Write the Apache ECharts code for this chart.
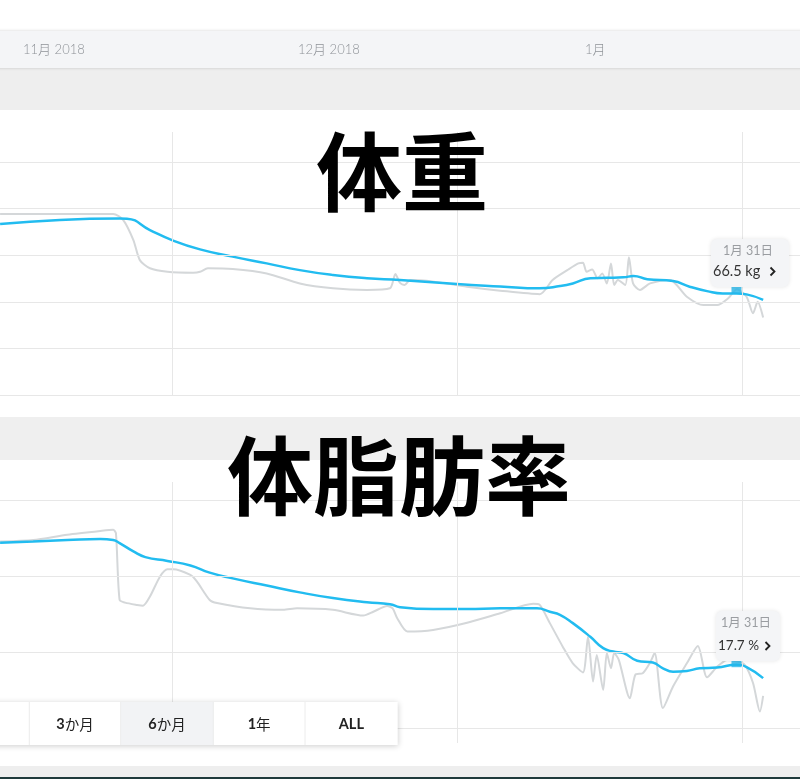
<!DOCTYPE html>
<html><head><meta charset="utf-8">
<script src="https://cdn.jsdelivr.net/npm/echarts@6/dist/echarts.min.js"></script>
<style>html,body{margin:0;padding:0;background:#fff;}#c{width:800px;height:779px;}</style>
</head><body><div id="c"></div><script>
// x values: days counted from 2018-12-01 (0 = 12/1, 31 = 1/1, 62 = 2/1)
const monthStartDays = [0, 31, 62];
const topMonthLabels = ['11月 2018', '12月 2018', '1月'];
const rangeButtons = ['3か月', '6か月', '1年', 'ALL'];

// 体重 (kg)
const weightTicks = [62, 64, 66, 68, 70, 72];
const rawWeightDay = [-18.7,-6.4,-5.3,-4.2,-3.5,-2.4,-0.5,2.3,3.05,3.9,6.6,10.3,13.9,17.5,21.2,23.7,24.3,24.8,25.3,25.9,27.7,32.1,35.7,40.0,41.4,43.0,44.2,44.7,45.1,45.7,46.3,46.8,47.3,47.75,48.1,48.5,49.3,49.7,50.15,50.9,52.0,54.2,54.9,56.0,57.8,59.3,60.5,61.45,62.5,63.2,63.7,64.3];
const rawWeightKg = [69.77,69.77,69.51,68.65,67.79,67.44,67.29,67.25,67.29,67.44,67.41,67.22,66.79,66.58,66.51,66.58,67.19,66.81,66.72,66.94,66.91,66.65,66.48,66.33,66.94,67.36,67.65,67.68,67.29,67.39,67.01,67.22,66.79,67.65,66.72,66.94,66.72,67.91,66.79,66.51,66.79,66.94,66.72,66.22,65.86,65.86,66.15,66.54,66.22,65.51,66.0,65.33];
const trendWeightDay = [-18.7,-5.7,-4.9,-2.4,0,3.05,6.6,10.3,13.9,17.5,21.2,24.8,31,35.7,40,42.2,43.6,45.5,47.3,49.1,50.2,51.7,54.5,56.3,58.2,59.9,61.4,62.5,64.3];
const trendWeightKg = [69.34,69.58,69.57,69.08,68.65,68.25,67.94,67.65,67.36,67.15,67.01,66.94,66.76,66.66,66.58,66.68,66.79,67.01,67.03,67.05,67.11,66.97,66.89,66.65,66.46,66.36,66.36,66.32,66.08];

// 体脂肪率 (%)
const fatTicks = [16, 18, 20, 22];
const rawFatDay = [-18.7,-15.1,-11.4,-7.8,-6.4,-6.1,-5.7,-5.1,-3.8,-3.15,-2.4,-1.3,-0.5,0.1,2.0,2.7,4.1,4.9,8.5,12.1,13.6,17.5,20.8,21.9,23.4,24.0,24.5,25.6,28.4,32.1,35.7,39.3,40.0,41.1,42.5,43.6,44.7,45.25,45.8,46.2,46.9,47.3,47.75,48.1,48.6,49.8,50.4,51.2,52.0,52.5,53.4,54.5,56.0,57.2,58.2,59.3,60.4,61.45,62.3,63.2,63.95,64.3];
const rawFatPct = [20.92,20.96,21.10,21.2,21.23,21.14,19.38,19.31,19.25,19.23,19.47,20.0,20.19,20.19,20.04,19.87,19.38,19.3,19.16,19.12,19.16,19.12,18.97,19.07,19.22,19.16,18.9,18.55,18.59,18.78,19.03,19.28,19.25,18.77,18.15,17.71,17.47,18.41,17.23,17.93,17.01,17.98,17.58,17.98,17.8,16.79,17.41,17.45,17.73,17.98,16.53,17.1,17.71,18.17,17.34,17.62,17.8,17.76,17.67,17.19,16.44,16.85];
const trendFatDay = [-18.7,-15.1,-11.4,-7.8,-6.4,-5.7,-4.2,-2.9,-0.5,2.0,4.1,6.6,10.3,13.9,17.5,21.2,23.7,24.8,28.4,32.1,35.7,39.7,41.1,42.2,43.6,45.5,46.9,48.0,49.1,50.6,52.3,53.4,54.5,56.0,57.4,59.3,61.4,62.5,64.3];
const trendFatPct = [20.89,20.92,20.96,20.99,20.96,20.88,20.66,20.51,20.41,20.29,20.10,19.95,19.76,19.58,19.43,19.32,19.27,19.19,19.14,19.14,19.16,19.16,19.07,18.99,18.77,18.41,18.11,18.02,17.98,17.78,17.73,17.58,17.49,17.51,17.58,17.6,17.67,17.61,17.32];

// selected point (1月 31日)
const selectedDay = 61.4;
const selectedDateLabel = '1月 31日';
const selectedWeight = 66.5;
const selectedFat = 17.7;

const zip = (a, b) => a.map((v, i) => [v, b[i]]);
const BLUE = '#22bcf0', GRAY = '#d4d7d9', GRID = '#e7e7e7';
const FONT = 'Lato, "Noto Sans CJK JP", sans-serif';

function gridSeries(idx, yVals) {
  return {
    type: 'line', xAxisIndex: idx, yAxisIndex: idx, data: [], silent: true, z: 1,
    markLine: {
      silent: true, symbol: ['none', 'none'], label: { show: false },
      lineStyle: { color: GRID, width: 1, type: 'solid' }, emphasis: { disabled: true },
      data: monthStartDays.map(d => ({ xAxis: d })).concat(yVals.map(v => ({ yAxis: v })))
    }
  };
}
function rawSeries(idx, d) {
  return { type: 'line', xAxisIndex: idx, yAxisIndex: idx, data: d, showSymbol: false, smooth: 0.25,
    silent: true, z: 2, lineStyle: { color: GRAY, width: 2 } };
}
function trendSeries(idx, d) {
  return { type: 'line', xAxisIndex: idx, yAxisIndex: idx, data: d, showSymbol: false, smooth: 0.5,
    silent: true, z: 3, lineStyle: { color: BLUE, width: 2.5 } };
}
function markerSeries(idx, d) {
  return { type: 'scatter', xAxisIndex: idx, yAxisIndex: idx, data: d, symbol: 'rect',
    symbolSize: [10, 7], silent: true, z: 4, itemStyle: { color: '#25b6ea' } };
}

function tooltipBox(x, y, w, h, valueText, valueX, valueY, chevronX, valueSize) {
  return [
    { type: 'rect', z: 100, shape: { x: x, y: y, width: w, height: h, r: 6 },
      style: { fill: '#f4f5f7', shadowBlur: 4, shadowColor: 'rgba(0,0,0,0.10)' } },
    { type: 'text', z: 101, x: x + w / 2 - 2, y: y + 11.5,
      style: { text: selectedDateLabel, fill: '#9a9da1', font: '12.5px ' + FONT, align: 'center', verticalAlign: 'middle', textAlign: 'center', textVerticalAlign: 'middle' } },
    { type: 'text', z: 101, x: valueX, y: valueY,
      style: { text: valueText, fill: '#333', font: valueSize + 'px ' + FONT, align: 'left', verticalAlign: 'middle', textAlign: 'left', textVerticalAlign: 'middle' } },
    { type: 'polyline', z: 101,
      shape: { points: [[chevronX - 2, valueY - 4], [chevronX + 2, valueY], [chevronX - 2, valueY + 4]] },
      style: { stroke: '#222', lineWidth: 1.8, fill: null, lineJoin: 'miter' } }
  ];
}

const topLabelX = [23, 298, 585];
const graphics = [
  { type: 'rect', z: 0, shape: { x: 0, y: 68, width: 800, height: 42 }, style: { fill: '#eeeeee' } },
  { type: 'rect', z: 0, shape: { x: -5, y: 31, width: 810, height: 37 },
    style: { fill: '#f4f5f7', shadowBlur: 3, shadowColor: 'rgba(0,0,0,0.18)' } },
  { type: 'rect', z: 0, shape: { x: 0, y: 417, width: 800, height: 43 }, style: { fill: '#efefef' } },
  { type: 'rect', z: 0, shape: { x: 0, y: 766, width: 800, height: 13 }, style: { fill: '#eeeeee' } },
  { type: 'rect', z: 0, shape: { x: 0, y: 777, width: 800, height: 2 }, style: { fill: '#1f3a3b' } },
  { type: 'text', z: 100, x: 402, y: 172,
    style: { text: '体重', fill: '#000', font: 'bold 86px "Noto Sans CJK JP"', align: 'center', verticalAlign: 'middle', textAlign: 'center', textVerticalAlign: 'middle' } },
  { type: 'text', z: 100, x: 399, y: 476,
    style: { text: '体脂肪率', fill: '#000', font: 'bold 86px "Noto Sans CJK JP"', align: 'center', verticalAlign: 'middle', textAlign: 'center', textVerticalAlign: 'middle' } }
];
topMonthLabels.forEach((t, i) => graphics.push({ type: 'text', z: 10, x: topLabelX[i], y: 50,
  style: { text: t, fill: '#8f9398', font: '300 13px ' + FONT, align: 'left', verticalAlign: 'middle', textAlign: 'left', textVerticalAlign: 'middle' } }));

graphics.push(...tooltipBox(711, 239, 78, 48, selectedWeight.toFixed(1) + ' kg', 713, 271.5, 772.5, 14.5));
graphics.push(...tooltipBox(716, 611, 64, 50, selectedFat.toFixed(1) + ' %', 718, 646, 767.5, 13.5));

// range buttons
const btnEdges = [29.3, 120.7, 213.3, 305, 397.7];
graphics.push({ type: 'rect', z: 100, shape: { x: -10, y: 702, width: 407.7, height: 43 },
  style: { fill: '#fff', shadowBlur: 6, shadowOffsetY: 1, shadowColor: 'rgba(0,0,0,0.20)' } });
graphics.push({ type: 'rect', z: 101, shape: { x: btnEdges[1], y: 702, width: btnEdges[2] - btnEdges[1], height: 43 },
  style: { fill: '#f2f3f5' } });
btnEdges.slice(0, 4).forEach(x => graphics.push({ type: 'line', z: 102,
  shape: { x1: x, y1: 702, x2: x, y2: 745 }, style: { stroke: '#ececec', lineWidth: 1 } }));
rangeButtons.forEach((t, i) => {
  const m = t.match(/^(\d*)(.*)$/);
  const txt = t === 'ALL' ? '{b|ALL}' : '{b|' + m[1] + '}{n|' + m[2] + '}';
  graphics.push({ type: 'text', z: 103, x: (btnEdges[i] + btnEdges[i + 1]) / 2, y: 724,
    style: { text: txt, align: 'center', verticalAlign: 'middle', textAlign: 'center', textVerticalAlign: 'middle',
      rich: { b: { fontFamily: FONT, fontWeight: 'bold', fontSize: 14.5, fill: '#222', color: '#222' },
              n: { fontFamily: '"Noto Sans CJK JP"', fontWeight: 'normal', fontSize: 14.5, fill: '#222', color: '#222' } } } });
});

const chart = echarts.init(document.getElementById('c'), null, { renderer: 'canvas' });
chart.setOption({
  backgroundColor: '#fff',
  animation: false,
  grid: [
    { left: 0, right: 0, top: 132, height: 263 },
    { left: 0, right: 0, top: 482, height: 261 }
  ],
  xAxis: [
    { gridIndex: 0, type: 'value', min: -18.71, max: 68.31, show: false },
    { gridIndex: 1, type: 'value', min: -18.71, max: 68.31, show: false }
  ],
  yAxis: [
    { gridIndex: 0, type: 'value', min: 62, max: 73.29, show: false },
    { gridIndex: 1, type: 'value', min: 15.61, max: 22.49, show: false }
  ],
  series: [
    gridSeries(0, weightTicks),
    rawSeries(0, zip(rawWeightDay, rawWeightKg)),
    trendSeries(0, zip(trendWeightDay, trendWeightKg)),
    markerSeries(0, [[selectedDay, selectedWeight]]),
    gridSeries(1, fatTicks),
    rawSeries(1, zip(rawFatDay, rawFatPct)),
    trendSeries(1, zip(trendFatDay, trendFatPct)),
    markerSeries(1, [[selectedDay, selectedFat]])
  ],
  graphic: { elements: graphics }
});
</script></body></html>
